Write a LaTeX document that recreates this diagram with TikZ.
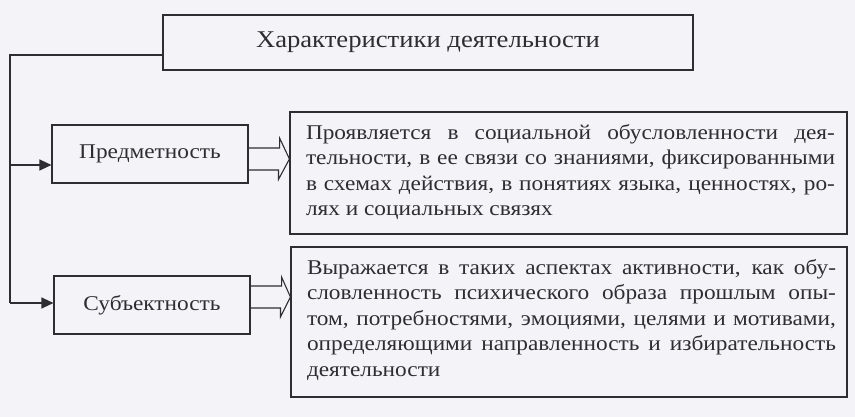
\documentclass[tikz,border=0pt]{standalone}
\usepackage{fontspec}
\setmainfont{Liberation Serif}[FakeStretch=1.11]
\usetikzlibrary{arrows.meta,calc}
\definecolor{paper}{RGB}{243,243,248}
\definecolor{ink}{RGB}{45,45,50}
\tikzset{
  box/.style={draw=ink, line width=1.1pt, rectangle, inner sep=0pt, font=\fontsize{21}{25.5}\selectfont, text=ink},
  descbox/.style={rectangle, inner sep=0pt, font=\fontsize{21}{25.5}\selectfont, text=ink, align=justify, text width=#1},
  conn/.style={draw=ink, line width=1.1pt},
  tri/.style={-{Triangle[length=12pt,width=11pt]}},
}
\begin{document}
\begin{tikzpicture}[x=1pt,y=-1pt]
\fill[paper] (0,0) rectangle (855,417);
\useasboundingbox (0,0) rectangle (855,417);

\node[box, minimum width=530pt, minimum height=55pt, font=\fontsize{24}{28}\selectfont] (title) at (428,42.5) {Характеристики деятельности};
\node[box, minimum width=196pt, minimum height=58pt] (pred) at (150,154) {Предметность};
\node[box, minimum width=196pt, minimum height=58pt] (subj) at (152,305) {Субъектность};

\node[box, minimum width=557pt, minimum height=122pt] (desc1) at (568.5,173) {};
\node[box, minimum width=556pt, minimum height=150pt] (desc2) at (569,322) {};

\node[descbox=529pt] (t1) at ([xshift=2pt,yshift=1pt]desc1.center) {Проявляется в социальной обусловленности дея-\linebreak тельности, в ее связи со знаниями, фиксированными\linebreak в схемах действия, в понятиях языка, ценностях, ро-\linebreak лях и социальных связях};
\node[descbox=529pt] (t2) at ([xshift=2.5pt,yshift=2pt]desc2.center) {Выражается в таких аспектах активности, как обу-\linebreak словленность психического образа прошлым опы-\linebreak том, потребностями, эмоциями, целями и мотивами,\linebreak определяющими направленность и избирательность\linebreak деятельности};

% bus line
\coordinate (top) at (10,55);
\coordinate (b1) at (10,165);
\coordinate (b2) at (10,303);
\draw[conn] (title.west |- top) -- (top) -- (b2);
\draw[conn,tri] (b1) -- (b1 -| pred.west);
\draw[conn,tri] (b2) -- (b2 -| subj.west);

% hollow arrows
\coordinate (a1) at ([yshift=-5pt]pred.east);
\draw[conn, line join=miter] ($(a1)+(0,-11)$) -- ++(31,0) -- ++(0,-10) -- (desc1.west |- a1) -- ++(-11,20.5) -- ++(0,-9.5) -- ++(-31,0);
\coordinate (a2) at ([yshift=8pt]subj.east);
\draw[conn, line join=miter] ($(a2)+(0,-11)$) -- ++(31,0) -- ++(0,-9) -- (desc2.west |- a2) -- ++(-10,20) -- ++(0,-9) -- ++(-31,0);
\end{tikzpicture}
\end{document}
